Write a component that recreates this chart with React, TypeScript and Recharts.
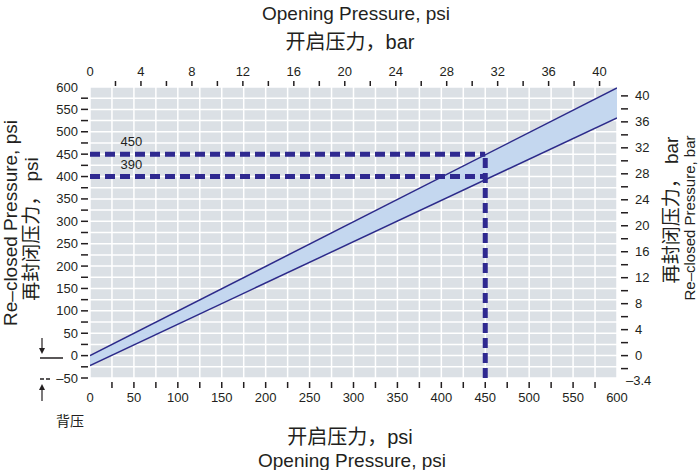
import { ComposedChart, Area, Line, XAxis, YAxis, CartesianGrid, ReferenceLine, ReferenceDot, Customized } from "recharts";

const PSI_PER_BAR = 14.5038;

// opening pressure (psi) vs re-closed pressure band (psi)
const openingPsi = [0, 600];
const upperPsi = [0, 598];
const lowerPsi = [-22, 531];

// worked example drawn with dashed lines
const markOpening = 450;
const markLevels = [450, 400];
const markLabels = ["450", "390"];

const psiTicks = [-50, -25, 0, 25, 50, 75, 100, 125, 150, 175, 200, 225, 250, 275, 300, 325, 350, 375, 400, 425, 450, 475, 500, 525, 550, 575, 600];
const openTicks = [0, 25, 50, 75, 100, 125, 150, 175, 200, 225, 250, 275, 300, 325, 350, 375, 400, 425, 450, 475, 500, 525, 550, 575, 600];
const topBarTicks = [0, 2, 4, 6, 8, 10, 12, 14, 16, 18, 20, 22, 24, 26, 28, 30, 32, 34, 36, 38, 40];
const rightBarTicks = [-3.4, -2, 0, 2, 4, 6, 8, 10, 12, 14, 16, 18, 20, 22, 24, 26, 28, 30, 32, 34, 36, 38, 40];

const bandData = openingPsi.map((x, i) => ({ x, upper: upperPsi[i], lower: lowerPsi[i] }));

const INK = "#231f20";
const NAVY = "#2c2a8a";
const DASH = "#2f2990";
const FONT = "'Liberation Sans', Arial, 'Noto Sans CJK SC', sans-serif";
const CJK = "'Liberation Sans', 'Noto Sans CJK SC', sans-serif";

const fmt = (v: number) => (v < 0 ? "\u2013" + Math.abs(v) : String(v));
const toBar = (psi: number) => Math.round((psi / PSI_PER_BAR) * 10) / 10;

const LeftTick = ({ x, y, payload }: any) => {
  const v = payload.value;
  return (
    <g>
      {v !== 600 && <line x1={x - 9} x2={x - 2} y1={y} y2={y} stroke={INK} strokeWidth={1.5} />}
      {v % 50 === 0 && (
        <text x={x - 12} y={y} textAnchor="end" dominantBaseline="central" fontSize={13} fill={INK} fontFamily={FONT}>
          {fmt(v)}
        </text>
      )}
    </g>
  );
};

const RightTick = ({ x, y, payload }: any) => {
  const v = toBar(payload.value);
  const whole = Number.isInteger(v);
  return (
    <g>
      {whole && <line x1={x + 4} x2={x + 11} y1={y} y2={y} stroke={INK} strokeWidth={1.5} />}
      {(!whole || v % 4 === 0) && (
        <text x={whole ? x + 18 : x + 9} y={whole ? y : y + 3} dominantBaseline="central" fontSize={13} fill={INK} fontFamily={FONT}>
          {fmt(v)}
        </text>
      )}
    </g>
  );
};

const TopTick = ({ x, y, payload }: any) => {
  const v = toBar(payload.value);
  return (
    <g>
      {v > 0 && <line x1={x} x2={x} y1={y - 6} y2={y - 1} stroke={INK} strokeWidth={1.5} />}
      {v % 4 === 0 && (
        <text x={x} y={y - 16} textAnchor="middle" dominantBaseline="central" fontSize={13} fill={INK} fontFamily={FONT}>
          {v}
        </text>
      )}
    </g>
  );
};

const BottomTick = ({ x, y, payload }: any) => {
  const v = payload.value;
  return (
    <g>
      {v > 0 && v < 600 && <line x1={x} x2={x} y1={y + 4} y2={y + 10} stroke={INK} strokeWidth={1.5} />}
      {v % 50 === 0 && (
        <text x={x} y={y + 19} textAnchor="middle" dominantBaseline="central" fontSize={13} fill={INK} fontFamily={FONT}>
          {v}
        </text>
      )}
    </g>
  );
};

const Titles = () => (
  <g fill={INK}>
    <text x={356} y={13} textAnchor="middle" dominantBaseline="central" fontSize={19} fontFamily={FONT}>Opening Pressure, psi</text>
    <text x={350} y={42} textAnchor="middle" dominantBaseline="central" fontSize={20} fontFamily={CJK}>开启压力，bar</text>
    <text x={350} y={437} textAnchor="middle" dominantBaseline="central" fontSize={20} fontFamily={CJK}>开启压力，psi</text>
    <text x={352} y={460} textAnchor="middle" dominantBaseline="central" fontSize={19} fontFamily={FONT}>Opening Pressure, psi</text>
    <text transform="translate(10,223) rotate(-90)" textAnchor="middle" dominantBaseline="central" fontSize={19} fontFamily={FONT}>Re–closed Pressure, psi</text>
    <text transform="translate(31,229) rotate(-90)" textAnchor="middle" dominantBaseline="central" fontSize={19} fontFamily={CJK}>再封闭压力， psi</text>
    <text transform="translate(671,210) rotate(-90)" textAnchor="middle" dominantBaseline="central" fontSize={19} fontFamily={CJK}>再封闭压力， bar</text>
    <text transform="translate(689,218) rotate(-90)" textAnchor="middle" dominantBaseline="central" fontSize={15} fontFamily={FONT}>Re–closed Pressure, bar</text>
    {/* back pressure marker */}
    <line x1={42} x2={42} y1={338} y2={349} stroke={INK} strokeWidth={1.2} />
    <polygon points="39,348 45,348 42,354" fill={INK} />
    <line x1={40} x2={63} y1={358} y2={358} stroke={INK} strokeWidth={1.5} />
    <line x1={40} x2={50} y1={379} y2={379} stroke={INK} strokeWidth={1.5} strokeDasharray="4 2" />
    <line x1={42} x2={42} y1={389} y2={401} stroke={INK} strokeWidth={1.2} />
    <polygon points="39,390 45,390 42,384" fill={INK} />
    <text x={70} y={421} textAnchor="middle" dominantBaseline="central" fontSize={14} fontFamily={CJK}>背压</text>
  </g>
);

export default function App() {
  return (
    <div style={{ position: "absolute", left: 0, top: 0, background: "#fff" }}>
      <ComposedChart width={700} height={470} data={bandData} margin={{ top: 0, right: 0, bottom: 0, left: 0 }}>
        <CartesianGrid xAxisId="b" yAxisId="l" fill="#dbe0e5" stroke="#ffffff" strokeWidth={1.5} />
        <XAxis xAxisId="b" dataKey="x" type="number" domain={[0, 600]} allowDataOverflow ticks={openTicks} interval={0} orientation="bottom" height={92} tickSize={0} tickMargin={0} axisLine={false} tickLine={false} tick={<BottomTick />} />
        <XAxis xAxisId="t" dataKey="x" type="number" domain={[0, 600]} allowDataOverflow ticks={topBarTicks.map((b) => b * PSI_PER_BAR)} interval={0} orientation="top" height={87} tickSize={0} tickMargin={0} axisLine={false} tickLine={false} tick={<TopTick />} />
        <YAxis yAxisId="l" type="number" domain={[-50, 600]} allowDataOverflow ticks={psiTicks} interval={0} width={90} tickSize={0} tickMargin={0} axisLine={false} tickLine={false} tick={<LeftTick />} />
        <YAxis yAxisId="r" orientation="right" type="number" domain={[-50, 600]} allowDataOverflow ticks={rightBarTicks.map((b) => b * PSI_PER_BAR)} interval={0} width={83} tickSize={0} tickMargin={0} axisLine={false} tickLine={false} tick={<RightTick />} />
        <Area xAxisId="b" yAxisId="l" type="linear" dataKey={(d: any) => [d.lower, d.upper]} fill="#c4d7ef" fillOpacity={1} stroke="none" isAnimationActive={false} />
        <Line xAxisId="b" yAxisId="l" type="linear" dataKey="upper" stroke={NAVY} strokeWidth={1.5} dot={false} isAnimationActive={false} />
        <Line xAxisId="b" yAxisId="l" type="linear" dataKey="lower" stroke={NAVY} strokeWidth={1.5} dot={false} isAnimationActive={false} />
        <Line xAxisId="t" yAxisId="r" type="linear" dataKey="upper" stroke="none" dot={false} activeDot={false} legendType="none" isAnimationActive={false} />
        {markLevels.map((lv) => (
          <ReferenceLine key={lv} xAxisId="b" yAxisId="l" segment={[{ x: 0, y: lv }, { x: markOpening, y: lv }]} stroke={DASH} strokeWidth={5} strokeDasharray="10 5" />
        ))}
        <ReferenceLine xAxisId="b" yAxisId="l" segment={[{ x: markOpening, y: -50 }, { x: markOpening, y: markLevels[0] }]} stroke={DASH} strokeWidth={5} strokeDasharray="10 5" />
        {markLevels.map((lv, i) => (
          <ReferenceDot key={"l" + lv} xAxisId="b" yAxisId="l" x={47} y={lv} r={1} fill="none" stroke="none"
            label={{ value: markLabels[i], position: "top", offset: 7, fill: INK, fontSize: 13, fontFamily: FONT }} />
        ))}
        <Customized component={Titles} />
      </ComposedChart>
    </div>
  );
}
